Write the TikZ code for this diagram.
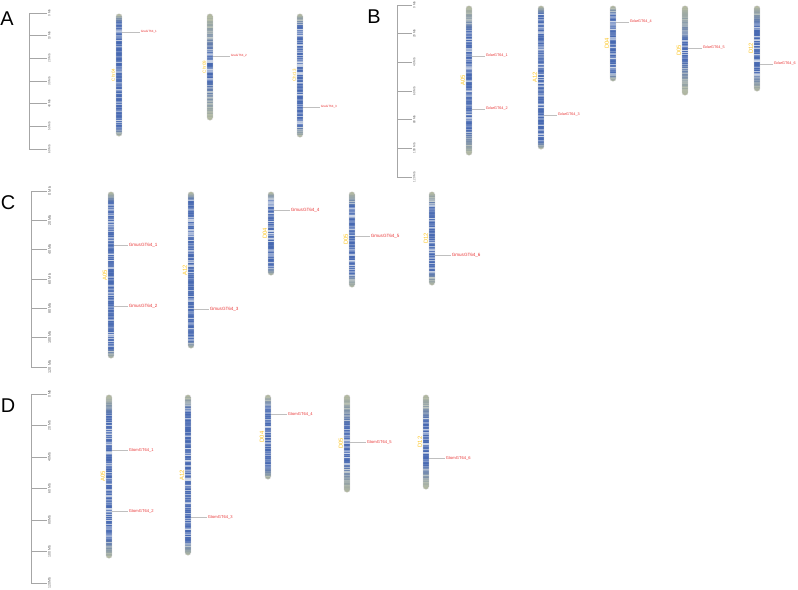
\documentclass[tikz,border=0pt]{standalone}
\usepackage{fontspec}
\setmainfont{Liberation Sans}
\usetikzlibrary{positioning}

\definecolor{chrblue}{RGB}{70,104,178}
\definecolor{chrpale}{RGB}{208,217,233}
\definecolor{chrolive}{RGB}{180,186,160}
\definecolor{genered}{RGB}{232,52,52}
\definecolor{chrgold}{RGB}{252,196,30}

\begin{document}
\begin{tikzpicture}[x=0.3mm, y=-0.3mm,
        panel/.style={font=\fontsize{17}{20}\selectfont, inner sep=0pt},
        axisline/.style={draw=gray!70, line width=0.7pt},
        mbtick/.style={anchor=north, rotate=90, font=\fontsize{3}{3.5}\selectfont, text=gray!70!black, inner sep=0.6pt},
        chrom/.style={minimum width=5.5*0.3mm, inner sep=0pt, draw=none},
        chrout/.style={draw=gray!40, line width=0.25pt, rounded corners=0.8mm},
        chrname/.style={rotate=90, text=chrgold, font=\fontsize{5}{6}\selectfont, inner sep=0.8pt},
        gene/.style={anchor=west, text=genered, font=\fontsize{3.5}{4}\selectfont, inner sep=0.5pt},
        geneline/.style={draw=gray!50, line width=0.3pt},]

        % chromosome: name, x, top, bottom, label, seed, olive ends
        \newcommand\chrbar[7]{%
          \node[chrom, minimum height={(#4-#3)*0.3mm}] (#1) at (#2,{(#3+#4)/2}) {};
          \begin{scope}
            \clip[rounded corners=0.8mm] (#1.south west) rectangle (#1.north east);
            \pgfmathsetseed{#6}
            \foreach \k in {#3,...,#4}{
              \pgfmathsetmacro\chrmix{int(100*(1-rnd^2.2))}
              \pgfmathsetmacro\chrend{int(100*min(1,min(\k-#3,#4-\k)/#7))}
              \fill[chrblue!\chrmix!chrpale!\chrend!chrolive] (#2-3,\k) rectangle (#2+3,\k+1.2);
            }
          \end{scope}
          \draw[chrout] (#1.south west) rectangle (#1.north east);
          \node[chrname, anchor=south] (#1-name) at (#1.west) {#5};
        }

        \useasboundingbox (0,0) rectangle (798,589);

        % A
        \node[panel] (pA) at (7,19) {A};
        \draw[axisline] (29,13) -- (29,149);
        \foreach \i [evaluate=\i as \v using int(10*\i)] in {0,...,6}
          \draw[axisline] (29,{13+\i*22.667}) -- ++(18,0) node[mbtick, font=\fontsize{2.6}{3}\selectfont] (tA\i) {\v~Mb};

        \begin{scope}[chrname/.append style={font=\fontsize{3.8}{4.5}\selectfont},
                      gene/.append style={font=\fontsize{2.6}{3}\selectfont}]
          \chrbar{ra04}{119}{14}{136}{Chr04}{11}{8}
          \chrbar{ra09}{210}{14}{120}{Chr09}{12}{40}
          \chrbar{ra13}{300}{14}{137}{Chr13}{13}{12}

          \coordinate (ga1) at (121.75,32);
          \coordinate (ga2) at (212.75,56);
          \coordinate (ga3) at (302.75,107);
          \node[gene] (GraGT64_1) at (140,32) {GraGT64\_1};
          \node[gene] (GraGT64_2) at (230,56) {GraGT64\_2};
          \node[gene] (GraGT64_3) at (320,107) {GraGT64\_3};
          \path (ga1) edge[geneline] (GraGT64_1.west);
          \path (ga2) edge[geneline] (GraGT64_2.west);
          \path (ga3) edge[geneline] (GraGT64_3.west);
        \end{scope}

        % B
        \node[panel] (pB) at (374,17) {B};
        \draw[axisline] (397,5) -- (397,177);
        \foreach \i [evaluate=\i as \v using int(20*\i)] in {0,...,6}
          \draw[axisline] (397,{5+\i*28.667}) -- ++(15,0) node[mbtick, font=\fontsize{2.6}{3}\selectfont] (tB\i) {\v~Mb};

        \begin{scope}[gene/.append style={font=\fontsize{3.2}{4}\selectfont}]
          \chrbar{da05}{469}{6}{155}{A05}{21}{25}
          \chrbar{da12}{541}{6}{149}{A12}{22}{8}
          \chrbar{dd04}{613}{6}{81}{D04}{23}{8}
          \chrbar{dd05}{685}{6}{95}{D05}{24}{35}
          \chrbar{dd12}{757}{6}{91}{D12}{25}{18}

          \coordinate (gb1) at (471.75,56);
          \coordinate (gb2) at (471.75,109);
          \coordinate (gb3) at (543.75,115);
          \coordinate (gb4) at (615.75,22);
          \coordinate (gb5) at (687.75,48);
          \coordinate (gb6) at (759.75,64);
          \node[gene] (GdarGT64_1) at (485,56) {GdarGT64\_1};
          \node[gene] (GdarGT64_2) at (485,109) {GdarGT64\_2};
          \node[gene] (GdarGT64_3) at (557,115) {GdarGT64\_3};
          \node[gene] (GdarGT64_4) at (629,22) {GdarGT64\_4};
          \node[gene] (GdarGT64_5) at (702,48) {GdarGT64\_5};
          \node[gene] (GdarGT64_6) at (773,64) {GdarGT64\_6};
          \path (gb1) edge[geneline] (GdarGT64_1.west);
          \path (gb2) edge[geneline] (GdarGT64_2.west);
          \path (gb3) edge[geneline] (GdarGT64_3.west);
          \path (gb4) edge[geneline] (GdarGT64_4.west);
          \path (gb5) edge[geneline] (GdarGT64_5.west);
          \path (gb6) edge[geneline] (GdarGT64_6.west);
        \end{scope}

        % C
        \node[panel] (pC) at (8,203) {C};
        \draw[axisline] (31,191) -- (31,367);
        \foreach \i [evaluate=\i as \v using int(20*\i)] in {0,...,6}
          \draw[axisline] (31,{191+\i*29.333}) -- ++(16,0) node[mbtick, font=\fontsize{3.2}{4}\selectfont] (tC\i) {\v~Mb};

        \begin{scope}[gene/.append style={font=\fontsize{3.9}{4.5}\selectfont}]
          \chrbar{ma05}{111}{192}{358}{A05}{31}{10}
          \chrbar{ma12}{191}{192}{348}{A12}{32}{8}
          \chrbar{md04}{271}{192}{275}{D04}{33}{8}
          \chrbar{md05}{352}{192}{287}{D05}{34}{14}
          \chrbar{md12}{432}{192}{285}{D12}{35}{14}

          \coordinate (gc1) at (113.75,245);
          \coordinate (gc2) at (113.75,306);
          \coordinate (gc3) at (193.75,309);
          \coordinate (gc4) at (273.75,210);
          \coordinate (gc5) at (354.75,236);
          \coordinate (gc6) at (434.75,255);
          \node[gene] (GmusGT64_1) at (128,245) {GmusGT64\_1};
          \node[gene] (GmusGT64_2) at (128,306) {GmusGT64\_2};
          \node[gene] (GmusGT64_3) at (209,309) {GmusGT64\_3};
          \node[gene] (GmusGT64_4) at (290,210) {GmusGT64\_4};
          \node[gene] (GmusGT64_5) at (370,236) {GmusGT64\_5};
          \node[gene] (GmusGT64_6) at (451,255) {GmusGT64\_6};
          \path (gc1) edge[geneline] (GmusGT64_1.west);
          \path (gc2) edge[geneline] (GmusGT64_2.west);
          \path (gc3) edge[geneline] (GmusGT64_3.west);
          \path (gc4) edge[geneline] (GmusGT64_4.west);
          \path (gc5) edge[geneline] (GmusGT64_5.west);
          \path (gc6) edge[geneline] (GmusGT64_6.west);
        \end{scope}

        % D
        \node[panel] (pD) at (8,406) {D};
        \draw[axisline] (31,394) -- (31,583);
        \foreach \i [evaluate=\i as \v using int(20*\i)] in {0,...,6}
          \draw[axisline] (31,{394+\i*31.5}) -- ++(16,0) node[mbtick] (tD\i) {\v~Mb};

        \begin{scope}[gene/.append style={font=\fontsize{3.5}{4}\selectfont}]
          \chrbar{ta05}{109}{395}{558}{A05}{41}{20}
          \chrbar{ta12}{188}{395}{555}{A12}{42}{14}
          \chrbar{td04}{268}{395}{479}{D04}{43}{12}
          \chrbar{td05}{347}{395}{492}{D05}{44}{30}
          \chrbar{td12}{426}{395}{489}{D12}{45}{25}

          \coordinate (gd1) at (111.75,450);
          \coordinate (gd2) at (111.75,511);
          \coordinate (gd3) at (190.75,517);
          \coordinate (gd4) at (270.75,414);
          \coordinate (gd5) at (349.75,442);
          \coordinate (gd6) at (428.75,458);
          \node[gene] (GtomGT64_1) at (128,450) {GtomGT64\_1};
          \node[gene] (GtomGT64_2) at (128,511) {GtomGT64\_2};
          \node[gene] (GtomGT64_3) at (207,517) {GtomGT64\_3};
          \node[gene] (GtomGT64_4) at (287,414) {GtomGT64\_4};
          \node[gene] (GtomGT64_5) at (366,442) {GtomGT64\_5};
          \node[gene] (GtomGT64_6) at (445,458) {GtomGT64\_6};
          \path (gd1) edge[geneline] (GtomGT64_1.west);
          \path (gd2) edge[geneline] (GtomGT64_2.west);
          \path (gd3) edge[geneline] (GtomGT64_3.west);
          \path (gd4) edge[geneline] (GtomGT64_4.west);
          \path (gd5) edge[geneline] (GtomGT64_5.west);
          \path (gd6) edge[geneline] (GtomGT64_6.west);
        \end{scope}

    \end{tikzpicture}
\end{document}
